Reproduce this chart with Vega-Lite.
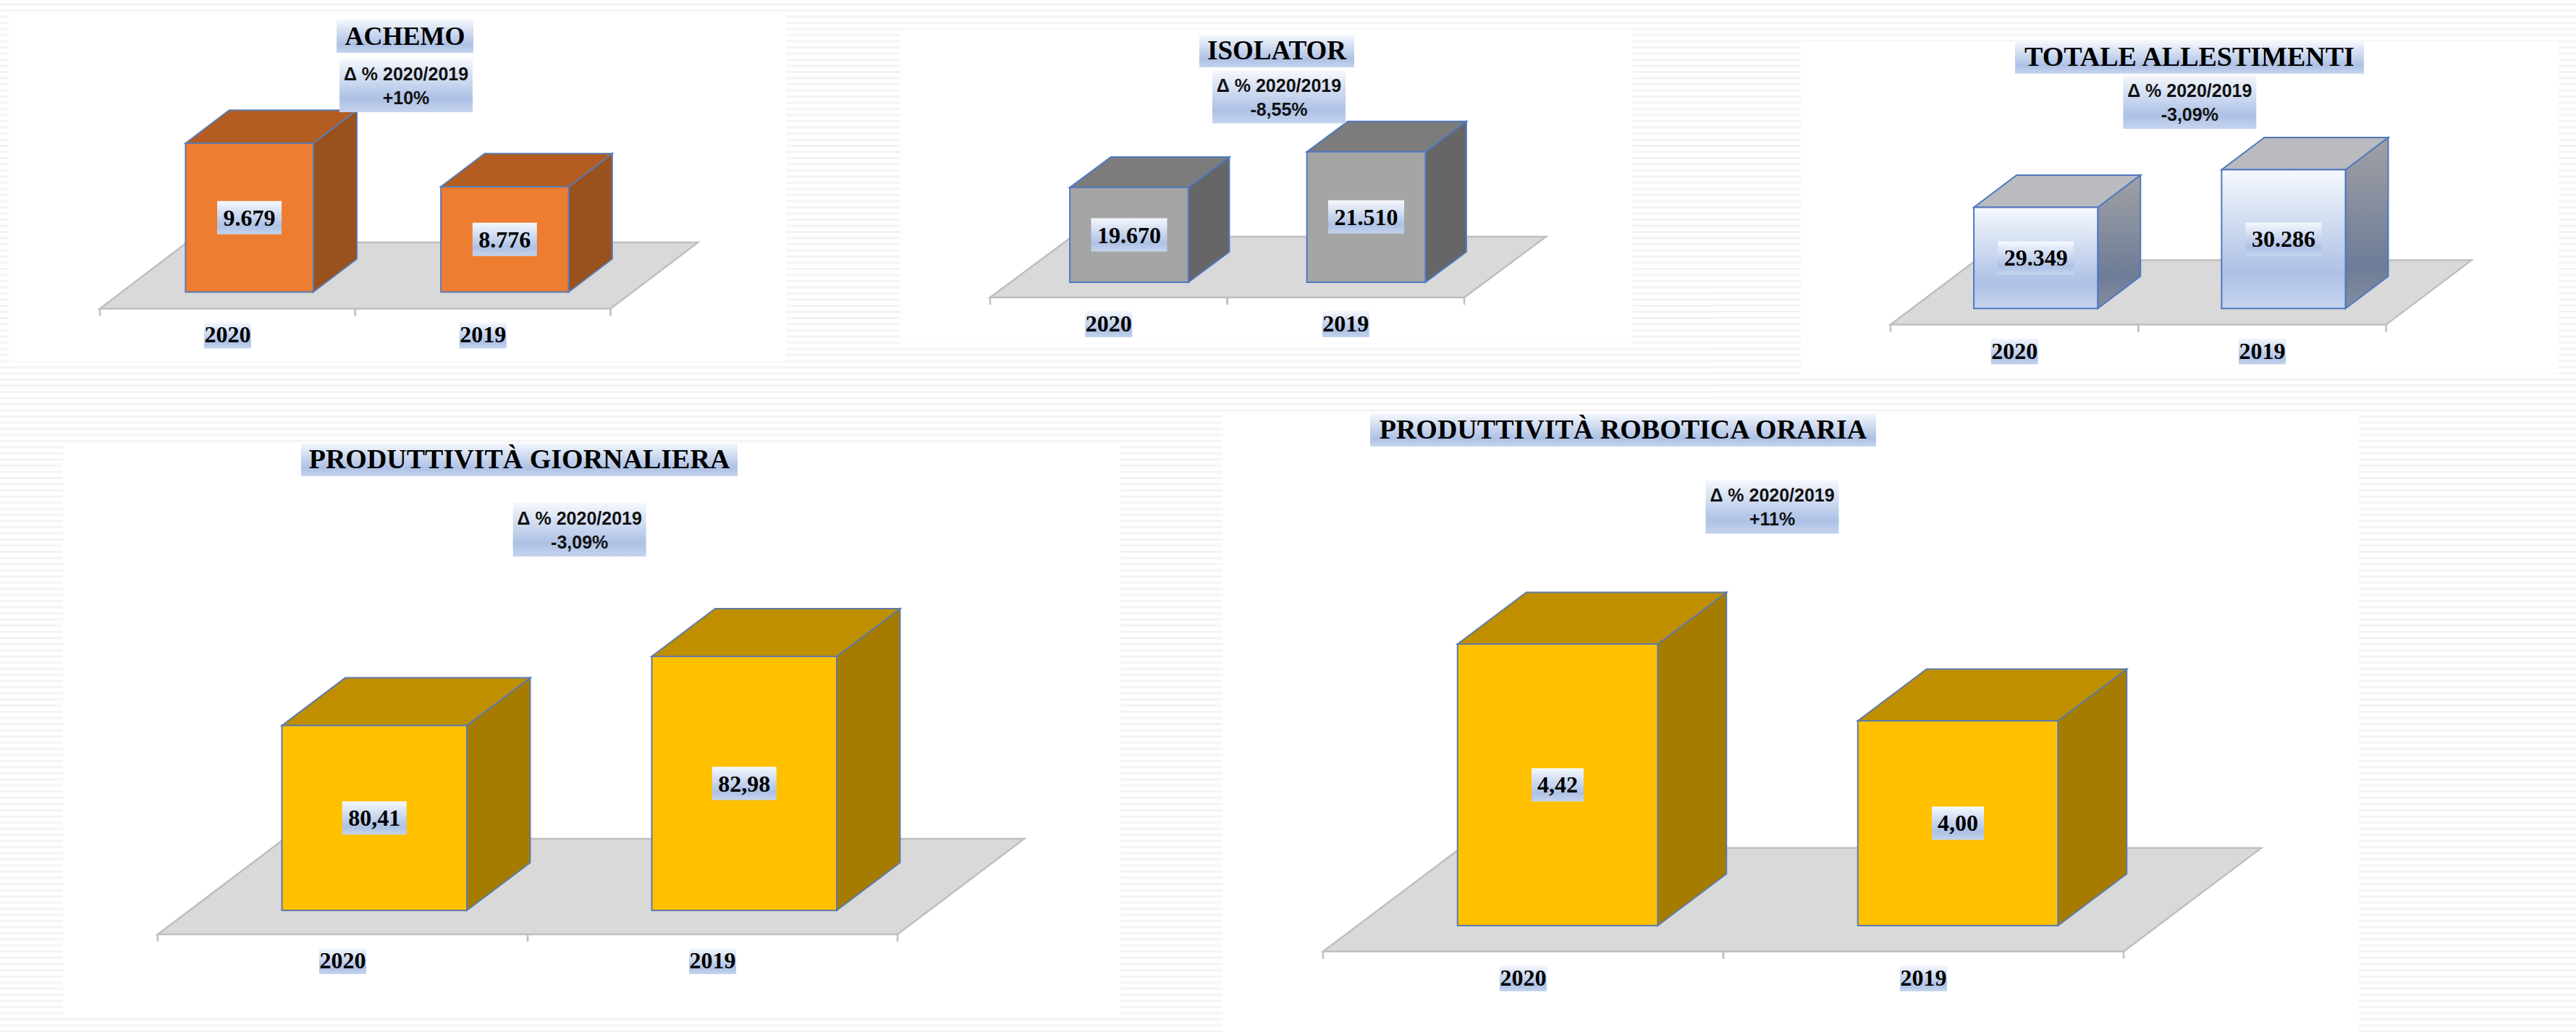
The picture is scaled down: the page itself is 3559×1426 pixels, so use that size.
{"$schema":"https://vega.github.io/schema/vega-lite/v6.json","padding":0,"background":"white","spacing":0,
"config":{"view":{"stroke":null},"axis":{"disable":true},"concat":{"spacing":0}},
"datasets":{
"barre":[
{"indicatore":"ACHEMO","anno":"2020","valore":9679,"etichetta":"9.679"},
{"indicatore":"ACHEMO","anno":"2019","valore":8776,"etichetta":"8.776"},
{"indicatore":"ISOLATOR","anno":"2020","valore":19670,"etichetta":"19.670"},
{"indicatore":"ISOLATOR","anno":"2019","valore":21510,"etichetta":"21.510"},
{"indicatore":"TOTALE","anno":"2020","valore":29349,"etichetta":"29.349"},
{"indicatore":"TOTALE","anno":"2019","valore":30286,"etichetta":"30.286"},
{"indicatore":"GIORNALIERA","anno":"2020","valore":80.41,"etichetta":"80,41"},
{"indicatore":"GIORNALIERA","anno":"2019","valore":82.98,"etichetta":"82,98"},
{"indicatore":"ORARIA","anno":"2020","valore":4.42,"etichetta":"4,42"},
{"indicatore":"ORARIA","anno":"2019","valore":4.00,"etichetta":"4,00"}],
"schede":[
{"indicatore":"ACHEMO","titolo":"ACHEMO","delta":"Δ % 2020/2019\n+10%"},
{"indicatore":"ISOLATOR","titolo":"ISOLATOR","delta":"Δ % 2020/2019\n-8,55%"},
{"indicatore":"TOTALE","titolo":"TOTALE ALLESTIMENTI","delta":"Δ % 2020/2019\n-3,09%"},
{"indicatore":"GIORNALIERA","titolo":"PRODUTTIVITÀ GIORNALIERA","delta":"Δ % 2020/2019\n-3,09%"},
{"indicatore":"ORARIA","titolo":"PRODUTTIVITÀ ROBOTICA ORARIA","delta":"Δ % 2020/2019\n+11%"}],
"righe":[{"n":0},{"n":1},{"n":2},{"n":3},{"n":4},{"n":5},{"n":6},{"n":7},{"n":8},{"n":9},{"n":10},{"n":11},{"n":12},{"n":13},{"n":14},{"n":15},{"n":16},{"n":17},{"n":18},{"n":19},{"n":20},{"n":21},{"n":22},{"n":23},{"n":24},{"n":25},{"n":26},{"n":27},{"n":28},{"n":29},{"n":30},{"n":31},{"n":32},{"n":33},{"n":34},{"n":35},{"n":36},{"n":37},{"n":38},{"n":39},{"n":40},{"n":41},{"n":42},{"n":43},{"n":44},{"n":45},{"n":46},{"n":47},{"n":48},{"n":49},{"n":50},{"n":51},{"n":52},{"n":53},{"n":54},{"n":55},{"n":56},{"n":57},{"n":58},{"n":59},{"n":60},{"n":61},{"n":62},{"n":63},{"n":64},{"n":65},{"n":66},{"n":67},{"n":68},{"n":69},{"n":70},{"n":71},{"n":72},{"n":73},{"n":74},{"n":75},{"n":76},{"n":77},{"n":78},{"n":79},{"n":80},{"n":81},{"n":82},{"n":83},{"n":84},{"n":85},{"n":86},{"n":87},{"n":88},{"n":89},{"n":90},{"n":91},{"n":92},{"n":93},{"n":94},{"n":95},{"n":96},{"n":97},{"n":98},{"n":99},{"n":100},{"n":101},{"n":102},{"n":103},{"n":104},{"n":105},{"n":106},{"n":107},{"n":108},{"n":109},{"n":110},{"n":111},{"n":112},{"n":113},{"n":114},{"n":115},{"n":116},{"n":117},{"n":118},{"n":119},{"n":120},{"n":121},{"n":122},{"n":123},{"n":124},{"n":125},{"n":126},{"n":127},{"n":128},{"n":129},{"n":130},{"n":131},{"n":132},{"n":133},{"n":134},{"n":135},{"n":136},{"n":137},{"n":138},{"n":139},{"n":140},{"n":141},{"n":142},{"n":143},{"n":144},{"n":145},{"n":146},{"n":147},{"n":148},{"n":149},{"n":150},{"n":151},{"n":152},{"n":153},{"n":154},{"n":155},{"n":156},{"n":157},{"n":158},{"n":159},{"n":160},{"n":161},{"n":162},{"n":163},{"n":164},{"n":165},{"n":166},{"n":167}]
},
"vconcat":[
{"spacing":0,"hconcat":[
{"width":1165,"height":545,"data":{"name":"barre"},
"transform":[{"filter":"datum.indicatore==='ACHEMO'"},{"calculate":"0.1709","as":"dx"},{"calculate":"689","as":"dy"},{"calculate":"6585","as":"base"},{"calculate":"datum.anno==='2020'?0:1","as":"slot"},{"calculate":"datum.slot+0.25+datum.dx/2","as":"left"},{"calculate":"datum.left+0.5","as":"right"},{"calculate":"datum.left+0.25","as":"cx"},{"calculate":"(datum.valore+datum.base)/2","as":"mid"},{"calculate":"datum.base-datum.dy/2","as":"front"},{"calculate":"[0,1]","as":"t"},{"flatten":["t"]},{"calculate":"datum.left+datum.t*datum.dx","as":"fl"},{"calculate":"datum.right+datum.t*datum.dx","as":"fr"},{"calculate":"datum.valore+datum.t*datum.dy","as":"fv"},{"calculate":"datum.base+datum.t*datum.dy","as":"fb"},{"calculate":"2*datum.t*datum.dx","as":"px"},{"calculate":"2+2*datum.t*datum.dx","as":"px2"},{"calculate":"datum.front+2*datum.t*datum.dy","as":"py"},{"calculate":"datum.slot+datum.t","as":"tacca"},{"lookup":"indicatore","from":{"data":{"name":"schede"},"key":"indicatore","fields":["titolo","delta"]}}],
"layer":[
{"data":{"name":"righe"},"transform":[{"calculate":"12659-(5.9+8.5*datum.n)*15.049","as":"riga"}],"mark":{"type":"rule","clip":true,"stroke":"#f4f4f4","strokeWidth":3},"encoding":{"y":{"field":"riga","type":"quantitative","scale":{"domain":[4457,12659],"nice":false,"zero":false}}}},
{"transform":[{"filter":"datum.anno==='2020'&&datum.t===0"}],"mark":{"type":"rect","fill":"white"},"encoding":{"x":{"datum":-0.357,"type":"quantitative","scale":{"domain":[-0.3912,2.911],"nice":false,"zero":false}},"x2":{"datum":2.687},"y":{"datum":12349,"type":"quantitative"},"y2":{"datum":5149}}},
{"transform":[{"filter":"datum.anno==='2020'"}],"mark":{"type":"area","orient":"horizontal","fill":"#d9d9d9","stroke":"#bfbfbf","strokeWidth":2.5},"encoding":{"x":{"field":"px","type":"quantitative"},"x2":{"field":"px2"},"y":{"field":"py","type":"quantitative"}}},
{"mark":{"type":"rule","stroke":"#bfbfbf","strokeWidth":2.5,"y2Offset":10},"encoding":{"x":{"field":"tacca","type":"quantitative"},"y":{"field":"front","type":"quantitative"},"y2":{"field":"front"}}},
{"mark":{"type":"area","fill":"#99511e","stroke":"#5b7bb0","strokeWidth":2},"encoding":{"x":{"field":"fr","type":"quantitative"},"y":{"field":"fv","type":"quantitative"},"y2":{"field":"fb"},"detail":{"field":"anno"}}},
{"mark":{"type":"area","orient":"horizontal","fill":"#b35d22","stroke":"#5b7bb0","strokeWidth":2},"encoding":{"x":{"field":"fl","type":"quantitative"},"x2":{"field":"fr"},"y":{"field":"fv","type":"quantitative"},"detail":{"field":"anno"}}},
{"transform":[{"filter":"datum.t===0"}],"mark":{"type":"rect","fill":"#ed7d31","stroke":"#5b7bb0","strokeWidth":2},"encoding":{"x":{"field":"left","type":"quantitative"},"x2":{"field":"right"},"y":{"field":"valore","type":"quantitative"},"y2":{"field":"base"}}},
{"transform":[{"filter":"datum.t===0"}],"mark":{"type":"rect","xOffset":-44.5,"x2Offset":44.5,"yOffset":-23,"y2Offset":23,"fill":{"gradient":"linear","x1":0,"y1":0,"x2":0,"y2":1,"stops":[{"offset":0,"color":"#f5f8fd"},{"offset":0.75,"color":"#adc1e5"},{"offset":1,"color":"#c5d4ee"}]}},"encoding":{"x":{"field":"cx","type":"quantitative"},"x2":{"field":"cx"},"y":{"field":"mid","type":"quantitative"},"y2":{"field":"mid"}}},
{"transform":[{"filter":"datum.t===0"}],"mark":{"type":"text","font":"Liberation Serif","fontWeight":"bold","fontSize":32,"baseline":"middle","align":"center","dy":1,"fill":"black"},"encoding":{"x":{"field":"cx","type":"quantitative"},"y":{"field":"mid","type":"quantitative"},"text":{"field":"etichetta"}}},
{"transform":[{"filter":"datum.t===0"},{"calculate":"datum.slot+0.5","as":"cy"}],"mark":{"type":"rect","xOffset":-32.5,"x2Offset":32.5,"yOffset":19,"y2Offset":55,"fill":{"gradient":"linear","x1":0,"y1":0,"x2":0,"y2":1,"stops":[{"offset":0,"color":"#f5f8fd"},{"offset":0.75,"color":"#adc1e5"},{"offset":1,"color":"#c5d4ee"}]}},"encoding":{"x":{"field":"cy","type":"quantitative"},"x2":{"field":"cy"},"y":{"field":"front","type":"quantitative"},"y2":{"field":"front"}}},
{"transform":[{"filter":"datum.t===0"},{"calculate":"datum.slot+0.5","as":"cy"}],"mark":{"type":"text","font":"Liberation Serif","fontWeight":"bold","fontSize":32,"baseline":"middle","align":"center","dy":37,"fill":"black"},"encoding":{"x":{"field":"cy","type":"quantitative"},"y":{"field":"front","type":"quantitative"},"text":{"field":"anno"}}},
{"transform":[{"filter":"datum.anno==='2020'&&datum.t===0"}],"mark":{"type":"rect","xOffset":-94.5,"x2Offset":94.5,"yOffset":-23,"y2Offset":23,"fill":{"gradient":"linear","x1":0,"y1":0,"x2":0,"y2":1,"stops":[{"offset":0,"color":"#f5f8fd"},{"offset":0.75,"color":"#adc1e5"},{"offset":1,"color":"#c5d4ee"}]}},"encoding":{"x":{"datum":1.1947,"type":"quantitative"},"x2":{"datum":1.1947},"y":{"datum":11906,"type":"quantitative"},"y2":{"datum":11906}}},
{"transform":[{"filter":"datum.anno==='2020'&&datum.t===0"}],"mark":{"type":"text","font":"Liberation Serif","fontWeight":"bold","fontSize":36,"baseline":"middle","align":"center","dy":1,"fill":"black"},"encoding":{"x":{"datum":1.1947,"type":"quantitative"},"y":{"datum":11906,"type":"quantitative"},"text":{"field":"titolo"}}},
{"transform":[{"filter":"datum.anno==='2020'&&datum.t===0"}],"mark":{"type":"rect","xOffset":-92,"x2Offset":92,"yOffset":-37,"y2Offset":37,"fill":{"gradient":"linear","x1":0,"y1":0,"x2":0,"y2":1,"stops":[{"offset":0,"color":"#f5f8fd"},{"offset":0.75,"color":"#adc1e5"},{"offset":1,"color":"#c5d4ee"}]}},"encoding":{"x":{"datum":1.199,"type":"quantitative"},"x2":{"datum":1.199},"y":{"datum":10883,"type":"quantitative"},"y2":{"datum":10883}}},
{"transform":[{"filter":"datum.anno==='2020'&&datum.t===0"}],"mark":{"type":"text","font":"Liberation Sans","fontWeight":"bold","fontSize":25,"lineBreak":"\n","lineHeight":33,"baseline":"middle","align":"center","dy":-15,"fill":"#111111"},"encoding":{"x":{"datum":1.199,"type":"quantitative"},"y":{"datum":10883,"type":"quantitative"},"text":{"field":"delta"}}}
]},
{"width":1205,"height":545,"data":{"name":"barre"},
"transform":[{"filter":"datum.indicatore==='ISOLATOR'"},{"calculate":"0.1725","as":"dx"},{"calculate":"1568","as":"dy"},{"calculate":"14781","as":"base"},{"calculate":"datum.anno==='2020'?0:1","as":"slot"},{"calculate":"datum.slot+0.25+datum.dx/2","as":"left"},{"calculate":"datum.left+0.5","as":"right"},{"calculate":"datum.left+0.25","as":"cx"},{"calculate":"(datum.valore+datum.base)/2","as":"mid"},{"calculate":"datum.base-datum.dy/2","as":"front"},{"calculate":"[0,1]","as":"t"},{"flatten":["t"]},{"calculate":"datum.left+datum.t*datum.dx","as":"fl"},{"calculate":"datum.right+datum.t*datum.dx","as":"fr"},{"calculate":"datum.valore+datum.t*datum.dy","as":"fv"},{"calculate":"datum.base+datum.t*datum.dy","as":"fb"},{"calculate":"2*datum.t*datum.dx","as":"px"},{"calculate":"2+2*datum.t*datum.dx","as":"px2"},{"calculate":"datum.front+2*datum.t*datum.dy","as":"py"},{"calculate":"datum.slot+datum.t","as":"tacca"},{"lookup":"indicatore","from":{"data":{"name":"schede"},"key":"indicatore","fields":["titolo","delta"]}}],
"layer":[
{"data":{"name":"righe"},"transform":[{"calculate":"29337-(5.9+8.5*datum.n)*37.323","as":"riga"}],"mark":{"type":"rule","clip":true,"stroke":"#f4f4f4","strokeWidth":3},"encoding":{"y":{"field":"riga","type":"quantitative","scale":{"domain":[8996,29337],"nice":false,"zero":false}}}},
{"transform":[{"filter":"datum.anno==='2020'&&datum.t===0"}],"mark":{"type":"rect","fill":"white"},"encoding":{"x":{"datum":-0.3786,"type":"quantitative","scale":{"domain":[-0.6198,3.0595],"nice":false,"zero":false}},"x2":{"datum":2.7084},"y":{"datum":27822,"type":"quantitative"},"y2":{"datum":11627}}},
{"transform":[{"filter":"datum.anno==='2020'"}],"mark":{"type":"area","orient":"horizontal","fill":"#d9d9d9","stroke":"#bfbfbf","strokeWidth":2.5},"encoding":{"x":{"field":"px","type":"quantitative"},"x2":{"field":"px2"},"y":{"field":"py","type":"quantitative"}}},
{"mark":{"type":"rule","stroke":"#bfbfbf","strokeWidth":2.5,"y2Offset":10},"encoding":{"x":{"field":"tacca","type":"quantitative"},"y":{"field":"front","type":"quantitative"},"y2":{"field":"front"}}},
{"mark":{"type":"area","fill":"#666666","stroke":"#4f78c0","strokeWidth":2},"encoding":{"x":{"field":"fr","type":"quantitative"},"y":{"field":"fv","type":"quantitative"},"y2":{"field":"fb"},"detail":{"field":"anno"}}},
{"mark":{"type":"area","orient":"horizontal","fill":"#7c7c7c","stroke":"#4f78c0","strokeWidth":2},"encoding":{"x":{"field":"fl","type":"quantitative"},"x2":{"field":"fr"},"y":{"field":"fv","type":"quantitative"},"detail":{"field":"anno"}}},
{"transform":[{"filter":"datum.t===0"}],"mark":{"type":"rect","fill":"#a5a5a5","stroke":"#4f78c0","strokeWidth":2},"encoding":{"x":{"field":"left","type":"quantitative"},"x2":{"field":"right"},"y":{"field":"valore","type":"quantitative"},"y2":{"field":"base"}}},
{"transform":[{"filter":"datum.t===0"}],"mark":{"type":"rect","xOffset":-52.5,"x2Offset":52.5,"yOffset":-23,"y2Offset":23,"fill":{"gradient":"linear","x1":0,"y1":0,"x2":0,"y2":1,"stops":[{"offset":0,"color":"#f5f8fd"},{"offset":0.75,"color":"#adc1e5"},{"offset":1,"color":"#c5d4ee"}]}},"encoding":{"x":{"field":"cx","type":"quantitative"},"x2":{"field":"cx"},"y":{"field":"mid","type":"quantitative"},"y2":{"field":"mid"}}},
{"transform":[{"filter":"datum.t===0"}],"mark":{"type":"text","font":"Liberation Serif","fontWeight":"bold","fontSize":32,"baseline":"middle","align":"center","dy":1,"fill":"black"},"encoding":{"x":{"field":"cx","type":"quantitative"},"y":{"field":"mid","type":"quantitative"},"text":{"field":"etichetta"}}},
{"transform":[{"filter":"datum.t===0"},{"calculate":"datum.slot+0.5","as":"cy"}],"mark":{"type":"rect","xOffset":-32.5,"x2Offset":32.5,"yOffset":19,"y2Offset":55,"fill":{"gradient":"linear","x1":0,"y1":0,"x2":0,"y2":1,"stops":[{"offset":0,"color":"#f5f8fd"},{"offset":0.75,"color":"#adc1e5"},{"offset":1,"color":"#c5d4ee"}]}},"encoding":{"x":{"field":"cy","type":"quantitative"},"x2":{"field":"cy"},"y":{"field":"front","type":"quantitative"},"y2":{"field":"front"}}},
{"transform":[{"filter":"datum.t===0"},{"calculate":"datum.slot+0.5","as":"cy"}],"mark":{"type":"text","font":"Liberation Serif","fontWeight":"bold","fontSize":32,"baseline":"middle","align":"center","dy":37,"fill":"black"},"encoding":{"x":{"field":"cy","type":"quantitative"},"y":{"field":"front","type":"quantitative"},"text":{"field":"anno"}}},
{"transform":[{"filter":"datum.anno==='2020'&&datum.t===0"}],"mark":{"type":"rect","xOffset":-107,"x2Offset":107,"yOffset":-22.5,"y2Offset":22.5,"fill":{"gradient":"linear","x1":0,"y1":0,"x2":0,"y2":1,"stops":[{"offset":0,"color":"#f5f8fd"},{"offset":0.75,"color":"#adc1e5"},{"offset":1,"color":"#c5d4ee"}]}},"encoding":{"x":{"datum":1.2092,"type":"quantitative"},"x2":{"datum":1.2092},"y":{"datum":26706,"type":"quantitative"},"y2":{"datum":26706}}},
{"transform":[{"filter":"datum.anno==='2020'&&datum.t===0"}],"mark":{"type":"text","font":"Liberation Serif","fontWeight":"bold","fontSize":37,"baseline":"middle","align":"center","dy":1,"fill":"black"},"encoding":{"x":{"datum":1.2092,"type":"quantitative"},"y":{"datum":26706,"type":"quantitative"},"text":{"field":"titolo"}}},
{"transform":[{"filter":"datum.anno==='2020'&&datum.t===0"}],"mark":{"type":"rect","xOffset":-92,"x2Offset":92,"yOffset":-36.5,"y2Offset":36.5,"fill":{"gradient":"linear","x1":0,"y1":0,"x2":0,"y2":1,"stops":[{"offset":0,"color":"#f5f8fd"},{"offset":0.75,"color":"#adc1e5"},{"offset":1,"color":"#c5d4ee"}]}},"encoding":{"x":{"datum":1.2183,"type":"quantitative"},"x2":{"datum":1.2183},"y":{"datum":24336,"type":"quantitative"},"y2":{"datum":24336}}},
{"transform":[{"filter":"datum.anno==='2020'&&datum.t===0"}],"mark":{"type":"text","font":"Liberation Sans","fontWeight":"bold","fontSize":25,"lineBreak":"\n","lineHeight":33,"baseline":"middle","align":"center","dy":-15,"fill":"#111111"},"encoding":{"x":{"datum":1.2183,"type":"quantitative"},"y":{"datum":24336,"type":"quantitative"},"text":{"field":"delta"}}}
]},
{"width":1189,"height":545,"data":{"name":"barre"},
"transform":[{"filter":"datum.indicatore==='TOTALE'"},{"calculate":"0.1724","as":"dx"},{"calculate":"802","as":"dy"},{"calculate":"26830","as":"base"},{"calculate":"datum.anno==='2020'?0:1","as":"slot"},{"calculate":"datum.slot+0.25+datum.dx/2","as":"left"},{"calculate":"datum.left+0.5","as":"right"},{"calculate":"datum.left+0.25","as":"cx"},{"calculate":"(datum.valore+datum.base)/2","as":"mid"},{"calculate":"datum.base-datum.dy/2","as":"front"},{"calculate":"[0,1]","as":"t"},{"flatten":["t"]},{"calculate":"datum.left+datum.t*datum.dx","as":"fl"},{"calculate":"datum.right+datum.t*datum.dx","as":"fr"},{"calculate":"datum.valore+datum.t*datum.dy","as":"fv"},{"calculate":"datum.base+datum.t*datum.dy","as":"fb"},{"calculate":"2*datum.t*datum.dx","as":"px"},{"calculate":"2+2*datum.t*datum.dx","as":"px2"},{"calculate":"datum.front+2*datum.t*datum.dy","as":"py"},{"calculate":"datum.slot+datum.t","as":"tacca"},{"lookup":"indicatore","from":{"data":{"name":"schede"},"key":"indicatore","fields":["titolo","delta"]}}],
"layer":[
{"data":{"name":"righe"},"transform":[{"calculate":"34512-(5.9+8.5*datum.n)*18.019","as":"riga"}],"mark":{"type":"rule","clip":true,"stroke":"#f4f4f4","strokeWidth":3},"encoding":{"y":{"field":"riga","type":"quantitative","scale":{"domain":[24691,34512],"nice":false,"zero":false}}}},
{"transform":[{"filter":"datum.anno==='2020'&&datum.t===0"}],"mark":{"type":"rect","fill":"white"},"encoding":{"x":{"datum":-0.3623,"type":"quantitative","scale":{"domain":[-0.707,2.7666],"nice":false,"zero":false}},"x2":{"datum":2.6965},"y":{"datum":33485,"type":"quantitative"},"y2":{"datum":25205}}},
{"transform":[{"filter":"datum.anno==='2020'"}],"mark":{"type":"area","orient":"horizontal","fill":"#d9d9d9","stroke":"#bfbfbf","strokeWidth":2.5},"encoding":{"x":{"field":"px","type":"quantitative"},"x2":{"field":"px2"},"y":{"field":"py","type":"quantitative"}}},
{"mark":{"type":"rule","stroke":"#bfbfbf","strokeWidth":2.5,"y2Offset":10},"encoding":{"x":{"field":"tacca","type":"quantitative"},"y":{"field":"front","type":"quantitative"},"y2":{"field":"front"}}},
{"mark":{"type":"area","fill":{"gradient":"linear","x1":0,"y1":0,"x2":0,"y2":1,"stops":[{"offset":0,"color":"#a0a1a4"},{"offset":0.75,"color":"#6e7c98"},{"offset":1,"color":"#838d9d"}]},"stroke":"#4f78c0","strokeWidth":2},"encoding":{"x":{"field":"fr","type":"quantitative"},"y":{"field":"fv","type":"quantitative"},"y2":{"field":"fb"},"detail":{"field":"anno"}}},
{"mark":{"type":"area","orient":"horizontal","fill":"#b9bbbe","stroke":"#4f78c0","strokeWidth":2},"encoding":{"x":{"field":"fl","type":"quantitative"},"x2":{"field":"fr"},"y":{"field":"fv","type":"quantitative"},"detail":{"field":"anno"}}},
{"transform":[{"filter":"datum.t===0"}],"mark":{"type":"rect","fill":{"gradient":"linear","x1":0,"y1":0,"x2":0,"y2":1,"stops":[{"offset":0,"color":"#f5f8fd"},{"offset":0.75,"color":"#adc1e5"},{"offset":1,"color":"#c5d4ee"}]},"stroke":"#4f78c0","strokeWidth":2},"encoding":{"x":{"field":"left","type":"quantitative"},"x2":{"field":"right"},"y":{"field":"valore","type":"quantitative"},"y2":{"field":"base"}}},
{"transform":[{"filter":"datum.t===0"}],"mark":{"type":"rect","xOffset":-52.5,"x2Offset":52.5,"yOffset":-23,"y2Offset":23,"fill":{"gradient":"linear","x1":0,"y1":0,"x2":0,"y2":1,"stops":[{"offset":0,"color":"#f5f8fd"},{"offset":0.75,"color":"#adc1e5"},{"offset":1,"color":"#c5d4ee"}]}},"encoding":{"x":{"field":"cx","type":"quantitative"},"x2":{"field":"cx"},"y":{"field":"mid","type":"quantitative"},"y2":{"field":"mid"}}},
{"transform":[{"filter":"datum.t===0"}],"mark":{"type":"text","font":"Liberation Serif","fontWeight":"bold","fontSize":32,"baseline":"middle","align":"center","dy":1,"fill":"black"},"encoding":{"x":{"field":"cx","type":"quantitative"},"y":{"field":"mid","type":"quantitative"},"text":{"field":"etichetta"}}},
{"transform":[{"filter":"datum.t===0"},{"calculate":"datum.slot+0.5","as":"cy"}],"mark":{"type":"rect","xOffset":-32.5,"x2Offset":32.5,"yOffset":19,"y2Offset":55,"fill":{"gradient":"linear","x1":0,"y1":0,"x2":0,"y2":1,"stops":[{"offset":0,"color":"#f5f8fd"},{"offset":0.75,"color":"#adc1e5"},{"offset":1,"color":"#c5d4ee"}]}},"encoding":{"x":{"field":"cy","type":"quantitative"},"x2":{"field":"cy"},"y":{"field":"front","type":"quantitative"},"y2":{"field":"front"}}},
{"transform":[{"filter":"datum.t===0"},{"calculate":"datum.slot+0.5","as":"cy"}],"mark":{"type":"text","font":"Liberation Serif","fontWeight":"bold","fontSize":32,"baseline":"middle","align":"center","dy":37,"fill":"black"},"encoding":{"x":{"field":"cy","type":"quantitative"},"y":{"field":"front","type":"quantitative"},"text":{"field":"anno"}}},
{"transform":[{"filter":"datum.anno==='2020'&&datum.t===0"}],"mark":{"type":"rect","xOffset":-241,"x2Offset":241,"yOffset":-22.5,"y2Offset":22.5,"fill":{"gradient":"linear","x1":0,"y1":0,"x2":0,"y2":1,"stops":[{"offset":0,"color":"#f5f8fd"},{"offset":0.75,"color":"#adc1e5"},{"offset":1,"color":"#c5d4ee"}]}},"encoding":{"x":{"datum":1.2065,"type":"quantitative"},"x2":{"datum":1.2065},"y":{"datum":33083,"type":"quantitative"},"y2":{"datum":33083}}},
{"transform":[{"filter":"datum.anno==='2020'&&datum.t===0"}],"mark":{"type":"text","font":"Liberation Serif","fontWeight":"bold","fontSize":38,"baseline":"middle","align":"center","dy":1,"fill":"black"},"encoding":{"x":{"datum":1.2065,"type":"quantitative"},"y":{"datum":33083,"type":"quantitative"},"text":{"field":"titolo"}}},
{"transform":[{"filter":"datum.anno==='2020'&&datum.t===0"}],"mark":{"type":"rect","xOffset":-92,"x2Offset":92,"yOffset":-37,"y2Offset":37,"fill":{"gradient":"linear","x1":0,"y1":0,"x2":0,"y2":1,"stops":[{"offset":0,"color":"#f5f8fd"},{"offset":0.75,"color":"#adc1e5"},{"offset":1,"color":"#c5d4ee"}]}},"encoding":{"x":{"datum":1.2074,"type":"quantitative"},"x2":{"datum":1.2074},"y":{"datum":31971,"type":"quantitative"},"y2":{"datum":31971}}},
{"transform":[{"filter":"datum.anno==='2020'&&datum.t===0"}],"mark":{"type":"text","font":"Liberation Sans","fontWeight":"bold","fontSize":25,"lineBreak":"\n","lineHeight":33,"baseline":"middle","align":"center","dy":-15,"fill":"#111111"},"encoding":{"x":{"datum":1.2074,"type":"quantitative"},"y":{"datum":31971,"type":"quantitative"},"text":{"field":"delta"}}}
]}
]},
{"spacing":0,"hconcat":[
{"width":1620,"height":881,"data":{"name":"barre"},
"transform":[{"filter":"datum.indicatore==='GIORNALIERA'"},{"calculate":"0.1712","as":"dx"},{"calculate":"1.7743","as":"dy"},{"calculate":"73.544","as":"base"},{"calculate":"datum.anno==='2020'?0:1","as":"slot"},{"calculate":"datum.slot+0.25+datum.dx/2","as":"left"},{"calculate":"datum.left+0.5","as":"right"},{"calculate":"datum.left+0.25","as":"cx"},{"calculate":"(datum.valore+datum.base)/2","as":"mid"},{"calculate":"datum.base-datum.dy/2","as":"front"},{"calculate":"[0,1]","as":"t"},{"flatten":["t"]},{"calculate":"datum.left+datum.t*datum.dx","as":"fl"},{"calculate":"datum.right+datum.t*datum.dx","as":"fr"},{"calculate":"datum.valore+datum.t*datum.dy","as":"fv"},{"calculate":"datum.base+datum.t*datum.dy","as":"fb"},{"calculate":"2*datum.t*datum.dx","as":"px"},{"calculate":"2+2*datum.t*datum.dx","as":"px2"},{"calculate":"datum.front+2*datum.t*datum.dy","as":"py"},{"calculate":"datum.slot+datum.t","as":"tacca"},{"lookup":"indicatore","from":{"data":{"name":"schede"},"key":"indicatore","fields":["titolo","delta"]}}],
"layer":[
{"data":{"name":"righe"},"transform":[{"calculate":"92.712-(5.9+8.5*datum.n-545)/37.198","as":"riga"}],"mark":{"type":"rule","clip":true,"stroke":"#f4f4f4","strokeWidth":3},"encoding":{"y":{"field":"riga","type":"quantitative","scale":{"domain":[69.028,92.712],"nice":false,"zero":false}}}},
{"transform":[{"filter":"datum.anno==='2020'&&datum.t===0"}],"mark":{"type":"rect","fill":"white"},"encoding":{"x":{"datum":-0.2564,"type":"quantitative","scale":{"domain":[-0.4266,2.7436],"nice":false,"zero":false}},"x2":{"datum":2.6027},"y":{"datum":90.938,"type":"quantitative"},"y2":{"datum":69.592}}},
{"transform":[{"filter":"datum.anno==='2020'"}],"mark":{"type":"area","orient":"horizontal","fill":"#d9d9d9","stroke":"#bfbfbf","strokeWidth":2.5},"encoding":{"x":{"field":"px","type":"quantitative"},"x2":{"field":"px2"},"y":{"field":"py","type":"quantitative"}}},
{"mark":{"type":"rule","stroke":"#bfbfbf","strokeWidth":2.5,"y2Offset":10},"encoding":{"x":{"field":"tacca","type":"quantitative"},"y":{"field":"front","type":"quantitative"},"y2":{"field":"front"}}},
{"mark":{"type":"area","fill":"#a67c00","stroke":"#5f7ba8","strokeWidth":2},"encoding":{"x":{"field":"fr","type":"quantitative"},"y":{"field":"fv","type":"quantitative"},"y2":{"field":"fb"},"detail":{"field":"anno"}}},
{"mark":{"type":"area","orient":"horizontal","fill":"#bf8f00","stroke":"#5f7ba8","strokeWidth":2},"encoding":{"x":{"field":"fl","type":"quantitative"},"x2":{"field":"fr"},"y":{"field":"fv","type":"quantitative"},"detail":{"field":"anno"}}},
{"transform":[{"filter":"datum.t===0"}],"mark":{"type":"rect","fill":"#ffc000","stroke":"#5f7ba8","strokeWidth":2},"encoding":{"x":{"field":"left","type":"quantitative"},"x2":{"field":"right"},"y":{"field":"valore","type":"quantitative"},"y2":{"field":"base"}}},
{"transform":[{"filter":"datum.t===0"}],"mark":{"type":"rect","xOffset":-44.5,"x2Offset":44.5,"yOffset":-23,"y2Offset":23,"fill":{"gradient":"linear","x1":0,"y1":0,"x2":0,"y2":1,"stops":[{"offset":0,"color":"#f5f8fd"},{"offset":0.75,"color":"#adc1e5"},{"offset":1,"color":"#c5d4ee"}]}},"encoding":{"x":{"field":"cx","type":"quantitative"},"x2":{"field":"cx"},"y":{"field":"mid","type":"quantitative"},"y2":{"field":"mid"}}},
{"transform":[{"filter":"datum.t===0"}],"mark":{"type":"text","font":"Liberation Serif","fontWeight":"bold","fontSize":32,"baseline":"middle","align":"center","dy":1,"fill":"black"},"encoding":{"x":{"field":"cx","type":"quantitative"},"y":{"field":"mid","type":"quantitative"},"text":{"field":"etichetta"}}},
{"transform":[{"filter":"datum.t===0"},{"calculate":"datum.slot+0.5","as":"cy"}],"mark":{"type":"rect","xOffset":-32.5,"x2Offset":32.5,"yOffset":19,"y2Offset":55,"fill":{"gradient":"linear","x1":0,"y1":0,"x2":0,"y2":1,"stops":[{"offset":0,"color":"#f5f8fd"},{"offset":0.75,"color":"#adc1e5"},{"offset":1,"color":"#c5d4ee"}]}},"encoding":{"x":{"field":"cy","type":"quantitative"},"x2":{"field":"cy"},"y":{"field":"front","type":"quantitative"},"y2":{"field":"front"}}},
{"transform":[{"filter":"datum.t===0"},{"calculate":"datum.slot+0.5","as":"cy"}],"mark":{"type":"text","font":"Liberation Serif","fontWeight":"bold","fontSize":32,"baseline":"middle","align":"center","dy":37,"fill":"black"},"encoding":{"x":{"field":"cy","type":"quantitative"},"y":{"field":"front","type":"quantitative"},"text":{"field":"anno"}}},
{"transform":[{"filter":"datum.anno==='2020'&&datum.t===0"}],"mark":{"type":"rect","xOffset":-301.5,"x2Offset":301.5,"yOffset":-23,"y2Offset":23,"fill":{"gradient":"linear","x1":0,"y1":0,"x2":0,"y2":1,"stops":[{"offset":0,"color":"#f5f8fd"},{"offset":0.75,"color":"#adc1e5"},{"offset":1,"color":"#c5d4ee"}]}},"encoding":{"x":{"datum":0.9775,"type":"quantitative"},"x2":{"datum":0.9775},"y":{"datum":90.293,"type":"quantitative"},"y2":{"datum":90.293}}},
{"transform":[{"filter":"datum.anno==='2020'&&datum.t===0"}],"mark":{"type":"text","font":"Liberation Serif","fontWeight":"bold","fontSize":38,"baseline":"middle","align":"center","dy":1,"fill":"black"},"encoding":{"x":{"datum":0.9775,"type":"quantitative"},"y":{"datum":90.293,"type":"quantitative"},"text":{"field":"titolo"}}},
{"transform":[{"filter":"datum.anno==='2020'&&datum.t===0"}],"mark":{"type":"rect","xOffset":-92,"x2Offset":92,"yOffset":-37,"y2Offset":37,"fill":{"gradient":"linear","x1":0,"y1":0,"x2":0,"y2":1,"stops":[{"offset":0,"color":"#f5f8fd"},{"offset":0.75,"color":"#adc1e5"},{"offset":1,"color":"#c5d4ee"}]}},"encoding":{"x":{"datum":1.1403,"type":"quantitative"},"x2":{"datum":1.1403},"y":{"datum":87.685,"type":"quantitative"},"y2":{"datum":87.685}}},
{"transform":[{"filter":"datum.anno==='2020'&&datum.t===0"}],"mark":{"type":"text","font":"Liberation Sans","fontWeight":"bold","fontSize":25,"lineBreak":"\n","lineHeight":33,"baseline":"middle","align":"center","dy":-15,"fill":"#111111"},"encoding":{"x":{"datum":1.1403,"type":"quantitative"},"y":{"datum":87.685,"type":"quantitative"},"text":{"field":"delta"}}}
]},
{"width":1939,"height":881,"data":{"name":"barre"},
"transform":[{"filter":"datum.indicatore==='ORARIA'"},{"calculate":"0.1718","as":"dx"},{"calculate":"0.2833","as":"dy"},{"calculate":"2.8787","as":"base"},{"calculate":"datum.anno==='2020'?0:1","as":"slot"},{"calculate":"datum.slot+0.25+datum.dx/2","as":"left"},{"calculate":"datum.left+0.5","as":"right"},{"calculate":"datum.left+0.25","as":"cx"},{"calculate":"(datum.valore+datum.base)/2","as":"mid"},{"calculate":"datum.base-datum.dy/2","as":"front"},{"calculate":"[0,1]","as":"t"},{"flatten":["t"]},{"calculate":"datum.left+datum.t*datum.dx","as":"fl"},{"calculate":"datum.right+datum.t*datum.dx","as":"fr"},{"calculate":"datum.valore+datum.t*datum.dy","as":"fv"},{"calculate":"datum.base+datum.t*datum.dy","as":"fb"},{"calculate":"2*datum.t*datum.dx","as":"px"},{"calculate":"2+2*datum.t*datum.dx","as":"px2"},{"calculate":"datum.front+2*datum.t*datum.dy","as":"py"},{"calculate":"datum.slot+datum.t","as":"tacca"},{"lookup":"indicatore","from":{"data":{"name":"schede"},"key":"indicatore","fields":["titolo","delta"]}}],
"layer":[
{"data":{"name":"righe"},"transform":[{"calculate":"5.787-(5.9+8.5*datum.n-545)/252.38","as":"riga"}],"mark":{"type":"rule","clip":true,"stroke":"#f4f4f4","strokeWidth":3},"encoding":{"y":{"field":"riga","type":"quantitative","scale":{"domain":[2.2962,5.787],"nice":false,"zero":false}}}},
{"transform":[{"filter":"datum.anno==='2020'&&datum.t===0"}],"mark":{"type":"rect","fill":"white"},"encoding":{"x":{"datum":-0.2514,"type":"quantitative","scale":{"domain":[-0.3761,3.1302],"nice":false,"zero":false}},"x2":{"datum":2.5877},"y":{"datum":5.692,"type":"quantitative"},"y2":{"datum":2.2962}}},
{"transform":[{"filter":"datum.anno==='2020'"}],"mark":{"type":"area","orient":"horizontal","fill":"#d9d9d9","stroke":"#bfbfbf","strokeWidth":2.5},"encoding":{"x":{"field":"px","type":"quantitative"},"x2":{"field":"px2"},"y":{"field":"py","type":"quantitative"}}},
{"mark":{"type":"rule","stroke":"#bfbfbf","strokeWidth":2.5,"y2Offset":10},"encoding":{"x":{"field":"tacca","type":"quantitative"},"y":{"field":"front","type":"quantitative"},"y2":{"field":"front"}}},
{"mark":{"type":"area","fill":"#a67c00","stroke":"#5f7ba8","strokeWidth":2},"encoding":{"x":{"field":"fr","type":"quantitative"},"y":{"field":"fv","type":"quantitative"},"y2":{"field":"fb"},"detail":{"field":"anno"}}},
{"mark":{"type":"area","orient":"horizontal","fill":"#bf8f00","stroke":"#5f7ba8","strokeWidth":2},"encoding":{"x":{"field":"fl","type":"quantitative"},"x2":{"field":"fr"},"y":{"field":"fv","type":"quantitative"},"detail":{"field":"anno"}}},
{"transform":[{"filter":"datum.t===0"}],"mark":{"type":"rect","fill":"#ffc000","stroke":"#5f7ba8","strokeWidth":2},"encoding":{"x":{"field":"left","type":"quantitative"},"x2":{"field":"right"},"y":{"field":"valore","type":"quantitative"},"y2":{"field":"base"}}},
{"transform":[{"filter":"datum.t===0"}],"mark":{"type":"rect","xOffset":-36,"x2Offset":36,"yOffset":-23,"y2Offset":23,"fill":{"gradient":"linear","x1":0,"y1":0,"x2":0,"y2":1,"stops":[{"offset":0,"color":"#f5f8fd"},{"offset":0.75,"color":"#adc1e5"},{"offset":1,"color":"#c5d4ee"}]}},"encoding":{"x":{"field":"cx","type":"quantitative"},"x2":{"field":"cx"},"y":{"field":"mid","type":"quantitative"},"y2":{"field":"mid"}}},
{"transform":[{"filter":"datum.t===0"}],"mark":{"type":"text","font":"Liberation Serif","fontWeight":"bold","fontSize":32,"baseline":"middle","align":"center","dy":1,"fill":"black"},"encoding":{"x":{"field":"cx","type":"quantitative"},"y":{"field":"mid","type":"quantitative"},"text":{"field":"etichetta"}}},
{"transform":[{"filter":"datum.t===0"},{"calculate":"datum.slot+0.5","as":"cy"}],"mark":{"type":"rect","xOffset":-32.5,"x2Offset":32.5,"yOffset":19,"y2Offset":55,"fill":{"gradient":"linear","x1":0,"y1":0,"x2":0,"y2":1,"stops":[{"offset":0,"color":"#f5f8fd"},{"offset":0.75,"color":"#adc1e5"},{"offset":1,"color":"#c5d4ee"}]}},"encoding":{"x":{"field":"cy","type":"quantitative"},"x2":{"field":"cy"},"y":{"field":"front","type":"quantitative"},"y2":{"field":"front"}}},
{"transform":[{"filter":"datum.t===0"},{"calculate":"datum.slot+0.5","as":"cy"}],"mark":{"type":"text","font":"Liberation Serif","fontWeight":"bold","fontSize":32,"baseline":"middle","align":"center","dy":37,"fill":"black"},"encoding":{"x":{"field":"cy","type":"quantitative"},"y":{"field":"front","type":"quantitative"},"text":{"field":"anno"}}},
{"transform":[{"filter":"datum.anno==='2020'&&datum.t===0"}],"mark":{"type":"rect","xOffset":-349.5,"x2Offset":349.5,"yOffset":-23,"y2Offset":23,"fill":{"gradient":"linear","x1":0,"y1":0,"x2":0,"y2":1,"stops":[{"offset":0,"color":"#f5f8fd"},{"offset":0.75,"color":"#adc1e5"},{"offset":1,"color":"#c5d4ee"}]}},"encoding":{"x":{"datum":0.7495,"type":"quantitative"},"x2":{"datum":0.7495},"y":{"datum":5.5929,"type":"quantitative"},"y2":{"datum":5.5929}}},
{"transform":[{"filter":"datum.anno==='2020'&&datum.t===0"}],"mark":{"type":"text","font":"Liberation Serif","fontWeight":"bold","fontSize":38,"baseline":"middle","align":"center","dy":1,"fill":"black"},"encoding":{"x":{"datum":0.7495,"type":"quantitative"},"y":{"datum":5.5929,"type":"quantitative"},"text":{"field":"titolo"}}},
{"transform":[{"filter":"datum.anno==='2020'&&datum.t===0"}],"mark":{"type":"rect","xOffset":-92,"x2Offset":92,"yOffset":-37,"y2Offset":37,"fill":{"gradient":"linear","x1":0,"y1":0,"x2":0,"y2":1,"stops":[{"offset":0,"color":"#f5f8fd"},{"offset":0.75,"color":"#adc1e5"},{"offset":1,"color":"#c5d4ee"}]}},"encoding":{"x":{"datum":1.1221,"type":"quantitative"},"x2":{"datum":1.1221},"y":{"datum":5.1709,"type":"quantitative"},"y2":{"datum":5.1709}}},
{"transform":[{"filter":"datum.anno==='2020'&&datum.t===0"}],"mark":{"type":"text","font":"Liberation Sans","fontWeight":"bold","fontSize":25,"lineBreak":"\n","lineHeight":33,"baseline":"middle","align":"center","dy":-15,"fill":"#111111"},"encoding":{"x":{"datum":1.1221,"type":"quantitative"},"y":{"datum":5.1709,"type":"quantitative"},"text":{"field":"delta"}}}
]}
]}
]}
